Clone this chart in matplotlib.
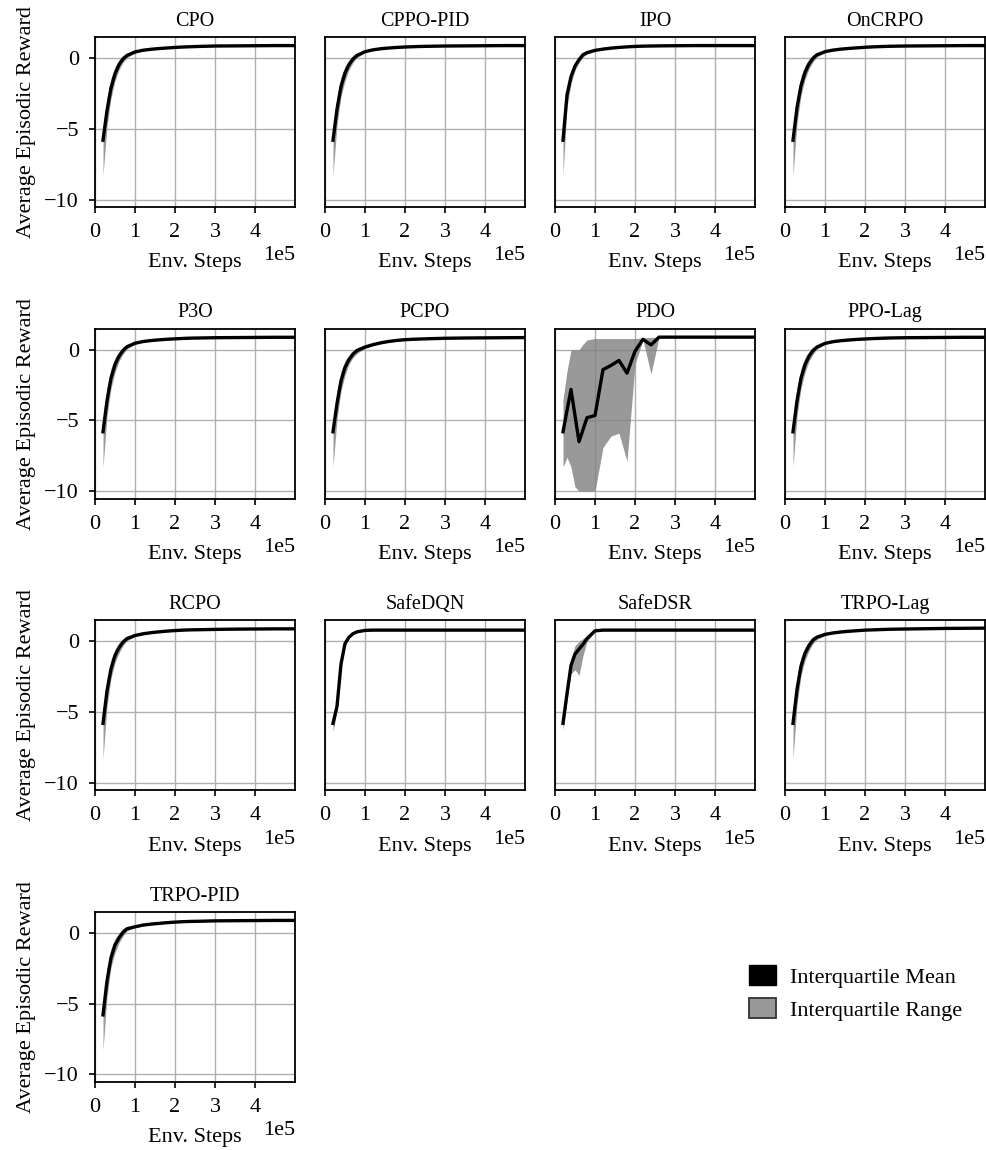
import matplotlib
matplotlib.use("Agg")
import matplotlib.pyplot as plt
from matplotlib.patches import Patch

plt.rcParams['font.family'] = ['Liberation Serif', 'DejaVu Serif']
plt.rcParams['font.size'] = 16
plt.rcParams['axes.titlesize'] = 14.5
plt.rcParams['axes.labelsize'] = 16
plt.rcParams['xtick.labelsize'] = 16
plt.rcParams['ytick.labelsize'] = 16

# Environment steps at which the evaluation reward was recorded
steps = [2e4, 3e4, 4e4, 5e4, 6e4, 7e4, 8e4, 1e5, 1.2e5, 1.4e5, 1.6e5, 1.8e5,
         2e5, 2.2e5, 2.4e5, 2.6e5, 3e5, 3.5e5, 4e5, 4.5e5, 5e5]

algorithms = ["CPO", "CPPO-PID", "IPO", "OnCRPO", "P3O", "PCPO", "PDO", "PPO-Lag",
              "RCPO", "SafeDQN", "SafeDSR", "TRPO-Lag", "TRPO-PID"]

# Interquartile mean of the episodic reward
iq_mean = {
    "CPO":      [-5.8, -3.7, -2.1, -1.1, -0.45, -0.05, 0.2, 0.45, 0.57, 0.64, 0.69, 0.73, 0.77, 0.8, 0.82, 0.84, 0.87, 0.88, 0.89, 0.9, 0.9],
    "CPPO-PID": [-5.8, -3.6, -2.0, -1.05, -0.45, -0.05, 0.2, 0.47, 0.6, 0.68, 0.73, 0.77, 0.8, 0.82, 0.84, 0.85, 0.87, 0.88, 0.89, 0.9, 0.9],
    "IPO":      [-5.8, -2.6, -1.3, -0.55, -0.1, 0.25, 0.4, 0.56, 0.65, 0.72, 0.77, 0.81, 0.84, 0.86, 0.87, 0.88, 0.89, 0.9, 0.9, 0.9, 0.9],
    "OnCRPO":   [-5.8, -3.5, -1.95, -1.0, -0.4, 0.0, 0.25, 0.47, 0.58, 0.65, 0.7, 0.74, 0.78, 0.81, 0.83, 0.85, 0.87, 0.88, 0.89, 0.9, 0.9],
    "P3O":      [-5.8, -3.6, -2.0, -1.05, -0.45, -0.05, 0.22, 0.47, 0.59, 0.66, 0.71, 0.75, 0.78, 0.81, 0.83, 0.84, 0.86, 0.87, 0.88, 0.89, 0.89],
    "PCPO":     [-5.8, -3.8, -2.2, -1.25, -0.7, -0.3, -0.05, 0.2, 0.37, 0.5, 0.6, 0.67, 0.72, 0.75, 0.77, 0.79, 0.82, 0.84, 0.85, 0.86, 0.87],
    "PDO":      [-5.8, -4.3, -2.8, -4.65, -6.5, -5.65, -4.8, -4.65, -1.4, -1.1, -0.75, -1.65, -0.1, 0.75, 0.35, 0.9, 0.9, 0.9, 0.9, 0.9, 0.9],
    "PPO-Lag":  [-5.8, -3.6, -2.0, -1.05, -0.45, -0.05, 0.2, 0.46, 0.58, 0.65, 0.7, 0.74, 0.77, 0.8, 0.82, 0.84, 0.86, 0.87, 0.88, 0.89, 0.89],
    "RCPO":     [-5.8, -3.5, -1.95, -1.0, -0.45, -0.05, 0.2, 0.42, 0.54, 0.62, 0.68, 0.73, 0.77, 0.8, 0.82, 0.83, 0.85, 0.87, 0.88, 0.89, 0.89],
    "SafeDQN":  [-5.8, -4.6, -1.6, -0.15, 0.3, 0.55, 0.68, 0.78, 0.8, 0.8, 0.8, 0.8, 0.8, 0.8, 0.8, 0.8, 0.8, 0.8, 0.8, 0.8, 0.8],
    "SafeDSR":  [-5.8, -3.7, -1.7, -0.9, -0.55, -0.2, 0.2, 0.75, 0.8, 0.8, 0.8, 0.8, 0.8, 0.8, 0.8, 0.8, 0.8, 0.8, 0.8, 0.8, 0.8],
    "TRPO-Lag": [-5.8, -3.4, -1.75, -0.85, -0.3, 0.1, 0.3, 0.5, 0.6, 0.67, 0.72, 0.76, 0.8, 0.82, 0.84, 0.86, 0.88, 0.9, 0.92, 0.93, 0.94],
    "TRPO-PID": [-5.8, -3.4, -1.75, -0.85, -0.35, 0.05, 0.3, 0.44, 0.56, 0.63, 0.68, 0.73, 0.77, 0.8, 0.82, 0.83, 0.86, 0.87, 0.88, 0.89, 0.89],
}

# Lower quartile (25th percentile)
iq_low = {
    "CPO":      [-8.3, -4.8, -2.8, -1.6, -0.8, -0.3, 0.05, 0.38, 0.52, 0.6, 0.66, 0.7, 0.74, 0.77, 0.79, 0.81, 0.84, 0.86, 0.87, 0.88, 0.88],
    "CPPO-PID": [-8.3, -4.7, -2.7, -1.6, -0.8, -0.3, 0.05, 0.4, 0.55, 0.64, 0.7, 0.74, 0.77, 0.79, 0.81, 0.83, 0.85, 0.86, 0.87, 0.88, 0.88],
    "IPO":      [-8.3, -3.4, -1.8, -0.85, -0.3, 0.1, 0.3, 0.5, 0.61, 0.69, 0.74, 0.78, 0.81, 0.83, 0.85, 0.86, 0.87, 0.88, 0.88, 0.88, 0.88],
    "OnCRPO":   [-8.3, -4.6, -2.6, -1.5, -0.75, -0.25, 0.1, 0.4, 0.53, 0.61, 0.67, 0.71, 0.75, 0.78, 0.8, 0.82, 0.85, 0.86, 0.87, 0.88, 0.88],
    "P3O":      [-8.3, -4.7, -2.7, -1.6, -0.8, -0.3, 0.07, 0.4, 0.54, 0.62, 0.67, 0.72, 0.75, 0.78, 0.8, 0.82, 0.84, 0.85, 0.86, 0.87, 0.87],
    "PCPO":     [-8.3, -4.9, -2.9, -1.8, -1.0, -0.55, -0.25, 0.1, 0.3, 0.45, 0.55, 0.63, 0.69, 0.72, 0.75, 0.77, 0.8, 0.82, 0.83, 0.84, 0.85],
    "PDO":      [-8.3, -7.6, -8.3, -9.7, -10.0, -10.0, -10.0, -10.0, -6.9, -6.1, -5.9, -7.9, -1.0, 0.7, -1.7, 0.88, 0.88, 0.88, 0.88, 0.88, 0.88],
    "PPO-Lag":  [-8.3, -4.7, -2.7, -1.6, -0.8, -0.3, 0.05, 0.39, 0.53, 0.61, 0.66, 0.71, 0.74, 0.77, 0.79, 0.81, 0.84, 0.85, 0.86, 0.87, 0.87],
    "RCPO":     [-8.3, -4.6, -2.6, -1.5, -0.8, -0.3, 0.05, 0.35, 0.49, 0.58, 0.65, 0.7, 0.74, 0.77, 0.79, 0.81, 0.83, 0.85, 0.86, 0.87, 0.87],
    "SafeDQN":  [-6.4, -4.9, -1.9, -0.3, 0.2, 0.5, 0.64, 0.76, 0.78, 0.78, 0.78, 0.78, 0.78, 0.78, 0.78, 0.78, 0.78, 0.78, 0.78, 0.78, 0.78],
    "SafeDSR":  [-6.3, -4.2, -2.3, -2.0, -2.4, -1.0, 0.0, 0.7, 0.78, 0.78, 0.78, 0.78, 0.78, 0.78, 0.78, 0.78, 0.78, 0.78, 0.78, 0.78, 0.78],
    "TRPO-Lag": [-8.3, -4.5, -2.4, -1.35, -0.65, -0.15, 0.15, 0.42, 0.55, 0.63, 0.69, 0.73, 0.77, 0.8, 0.82, 0.84, 0.86, 0.88, 0.9, 0.91, 0.92],
    "TRPO-PID": [-8.3, -4.5, -2.4, -1.4, -0.7, -0.2, 0.15, 0.37, 0.51, 0.59, 0.65, 0.7, 0.74, 0.77, 0.79, 0.81, 0.84, 0.85, 0.86, 0.87, 0.87],
}

# Upper quartile (75th percentile)
iq_high = {
    "CPO":      [-5.0, -2.8, -1.4, -0.6, -0.1, 0.2, 0.38, 0.53, 0.62, 0.68, 0.72, 0.76, 0.79, 0.82, 0.84, 0.86, 0.89, 0.9, 0.91, 0.92, 0.92],
    "CPPO-PID": [-5.0, -2.7, -1.3, -0.55, -0.1, 0.2, 0.38, 0.55, 0.65, 0.72, 0.76, 0.8, 0.83, 0.85, 0.86, 0.87, 0.89, 0.9, 0.91, 0.92, 0.92],
    "IPO":      [-5.3, -2.0, -0.9, -0.3, 0.05, 0.35, 0.48, 0.6, 0.68, 0.75, 0.8, 0.84, 0.86, 0.88, 0.89, 0.9, 0.91, 0.92, 0.92, 0.92, 0.92],
    "OnCRPO":   [-5.0, -2.6, -1.25, -0.5, -0.05, 0.25, 0.42, 0.55, 0.63, 0.69, 0.73, 0.77, 0.81, 0.83, 0.85, 0.87, 0.89, 0.9, 0.91, 0.92, 0.92],
    "P3O":      [-5.0, -2.7, -1.3, -0.55, -0.1, 0.2, 0.4, 0.55, 0.64, 0.7, 0.74, 0.78, 0.81, 0.83, 0.85, 0.86, 0.88, 0.89, 0.9, 0.91, 0.91],
    "PCPO":     [-5.1, -2.9, -1.5, -0.75, -0.35, -0.05, 0.15, 0.32, 0.45, 0.56, 0.65, 0.71, 0.75, 0.78, 0.8, 0.82, 0.84, 0.86, 0.87, 0.88, 0.89],
    "PDO":      [-3.5, -1.5, 0.0, 0.0, 0.0, 0.4, 0.7, 0.8, 0.8, 0.8, 0.8, 0.8, 0.8, 0.85, 0.88, 0.92, 0.92, 0.92, 0.92, 0.92, 0.92],
    "PPO-Lag":  [-5.0, -2.7, -1.3, -0.55, -0.1, 0.2, 0.38, 0.54, 0.63, 0.69, 0.73, 0.77, 0.8, 0.83, 0.85, 0.86, 0.88, 0.89, 0.9, 0.91, 0.91],
    "RCPO":     [-5.0, -2.6, -1.3, -0.55, -0.1, 0.2, 0.37, 0.5, 0.6, 0.67, 0.72, 0.76, 0.8, 0.83, 0.85, 0.86, 0.87, 0.89, 0.9, 0.91, 0.91],
    "SafeDQN":  [-5.6, -4.3, -1.4, 0.0, 0.4, 0.6, 0.72, 0.8, 0.82, 0.82, 0.82, 0.82, 0.82, 0.82, 0.82, 0.82, 0.82, 0.82, 0.82, 0.82, 0.82],
    "SafeDSR":  [-5.5, -3.2, -1.2, -0.3, 0.0, 0.2, 0.4, 0.8, 0.82, 0.82, 0.82, 0.82, 0.82, 0.82, 0.82, 0.82, 0.82, 0.82, 0.82, 0.82, 0.82],
    "TRPO-Lag": [-5.0, -2.5, -1.1, -0.4, 0.05, 0.35, 0.45, 0.58, 0.65, 0.71, 0.75, 0.79, 0.83, 0.84, 0.86, 0.88, 0.9, 0.92, 0.94, 0.95, 0.96],
    "TRPO-PID": [-5.0, -2.5, -1.1, -0.4, 0.0, 0.3, 0.45, 0.52, 0.61, 0.67, 0.71, 0.76, 0.8, 0.83, 0.85, 0.85, 0.88, 0.89, 0.9, 0.91, 0.91],
}

fig, axes = plt.subplots(4, 4, figsize=(9.87, 11.5), dpi=100, sharey=True)
fig.subplots_adjust(left=95 / 987, right=985 / 987, top=1 - 37 / 1150,
                    bottom=1 - 1082 / 1150, wspace=0.15, hspace=0.712)

for i, name in enumerate(algorithms):
    ax = axes.flat[i]
    ax.fill_between(steps, iq_low[name], iq_high[name], color="gray", alpha=0.8, lw=0)
    ax.plot(steps, iq_mean[name], color="black", lw=2.4)
    ax.set_title(name, pad=8)
    ax.set_xlim(0, 5e5)
    ax.set_xticks([0, 1e5, 2e5, 3e5, 4e5])
    ax.set_yticks([-10, -5, 0])
    ax.ticklabel_format(axis="x", style="sci", scilimits=(0, 0))
    ax.grid(True, color="#b0b0b0", lw=1.0)
    ax.set_axisbelow(True)
    ax.set_xlabel("Env. Steps", labelpad=8)
    for sp in ax.spines.values():
        sp.set_linewidth(1.3)
    ax.tick_params(direction="out", length=4.5, width=1.2, pad=7)
    if i % 4 == 0:
        ax.set_ylabel("Average Episodic Reward", labelpad=6)
    else:
        ax.tick_params(axis="y", left=False)

for ax in axes.flat[len(algorithms):]:
    ax.remove()

handles = [Patch(facecolor="black", edgecolor="black", label="Interquartile Mean"),
           Patch(facecolor="#999999", edgecolor="#333333", lw=1.3, label="Interquartile Range")]
fig.legend(handles=handles, loc="center left", bbox_to_anchor=(738 / 987, 1 - 993 / 1150),
           frameon=False, borderpad=0, handlelength=1.2, handleheight=1.0,
           handletextpad=0.65, labelspacing=0.45, fontsize=16)

fig.savefig("out.png", dpi=100)
